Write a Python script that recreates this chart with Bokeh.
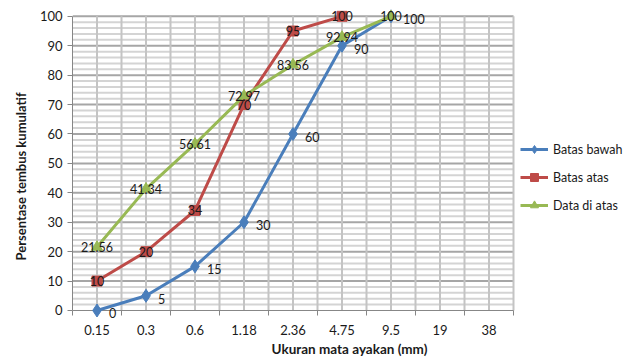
from bokeh.plotting import figure
from bokeh.models import (Range1d, FixedTicker, Legend, LegendItem, LabelSet,
                          ColumnDataSource, Title)
from bokeh.core.properties import value
from bokeh.embed import file_html
from bokeh.resources import INLINE

# ---- data ----
categories = ["0.15", "0.3", "0.6", "1.18", "2.36", "4.75", "9.5", "19", "38"]
batas_bawah = [0, 5, 15, 30, 60, 90, 100]
batas_atas = [10, 20, 34, 70, 95, 100]
data_di_atas = [21.56, 41.34, 56.61, 72.97, 83.56, 92.94, 100]
y_ticks = list(range(0, 101, 10))

FONT = "Lato"
BLUE = "#4a7ebb"
RED = "#be4b48"
GREEN = "#98b954"
TXT = "#1a1a1a"
AXIS = "#868686"

n = len(categories)
centers = [i + 0.5 for i in range(n)]
YMAX = 100
# the frame is widened past the last category so the legend fits beside the grid,
# and extends a little below 0 / above 100 so data labels there are not cut
x_end = n * (626 - 72) / (513 - 72)

p = figure(width=626, height=362, output_backend="svg", toolbar_location=None,
           x_range=Range1d(0, x_end), y_range=Range1d(-2.72, 103),
           min_border_left=72, min_border_right=0, min_border_top=7,
           min_border_bottom=44)
p.outline_line_color = None
p.background_fill_color = "white"
p.border_fill_color = "white"

# x axis: labels at category centres, tick marks at boundaries
p.xaxis.ticker = FixedTicker(ticks=centers, minor_ticks=list(range(n + 1)))
p.xaxis.bounds = (0, n)
p.xaxis.axis_line_color = None
p.xaxis.major_label_overrides = {c: lab for c, lab in zip(centers, categories)}
p.xaxis.major_tick_line_color = None
p.xaxis.major_tick_out = 0
p.xaxis.major_tick_in = 0
p.xaxis.minor_tick_in = 8
p.xaxis.minor_tick_out = -3
p.xaxis.minor_tick_line_color = AXIS
p.xaxis.major_label_standoff = 6
p.xaxis.axis_label = "Ukuran mata ayakan (mm)"
p.xaxis.axis_label_standoff = 3
p.xaxis.axis_label_text_font_size = "13.5px"

p.yaxis.ticker = FixedTicker(ticks=y_ticks, minor_ticks=list(range(0, 101, 2)))
p.yaxis.bounds = (0, YMAX)
p.yaxis.axis_line_color = AXIS
p.yaxis.major_tick_out = 5
p.yaxis.major_tick_in = 0
p.yaxis.minor_tick_out = 0
p.yaxis.minor_tick_in = 0
p.yaxis.major_tick_line_color = AXIS
p.yaxis.major_label_standoff = 5

for ax in (p.xaxis, p.yaxis):
    ax.axis_line_width = 1
    ax.major_label_text_font = FONT
    ax.major_label_text_font_size = "13px"
    ax.major_label_text_color = TXT
    ax.axis_label_text_font = FONT
    ax.axis_label_text_font_style = "bold"
    ax.axis_label_text_color = TXT

ytitle = Title(text="Persentase tembus kumulatif", align="left", offset=58,
               text_font=FONT, text_font_size="13px", text_font_style="bold",
               text_color=TXT, standoff=16)
p.add_layout(ytitle, "left")

# grids (drawn as segments so they stop at the last category / at 100)
p.xgrid.grid_line_color = None
p.ygrid.grid_line_color = None
minor_y = [v for v in range(2, YMAX + 1, 2) if v % 10]
major_y = y_ticks[1:]
p.segment(x0=[0] * len(minor_y), y0=minor_y, x1=[n] * len(minor_y), y1=minor_y,
          line_color="#d4d4d4", line_width=2)
p.segment(x0=[0] * len(major_y), y0=major_y, x1=[n] * len(major_y), y1=major_y,
          line_color="#a6a6a6", line_width=2)
gx = [i * 0.5 for i in range(1, 2 * n + 1)]
p.segment(x0=gx, y0=[0] * len(gx), x1=gx, y1=[YMAX] * len(gx),
          line_color="#c4c4c4", line_width=2)
# category axis line at y = 0
p.segment(x0=[0], y0=[0], x1=[n], y1=[0], line_color=AXIS, line_width=1)

# series
xb = centers[:len(batas_bawah)]
xa = centers[:len(batas_atas)]
xd = centers[:len(data_di_atas)]

lb = p.line(xb, batas_bawah, line_color=BLUE, line_width=3)
mb = p.scatter(xb, batas_bawah, marker="diamond", size=13, fill_color=BLUE, line_color=BLUE)
la = p.line(xa, batas_atas, line_color=RED, line_width=3)
ma = p.scatter(xa, batas_atas, marker="square", size=10, fill_color=RED, line_color=RED)
ld = p.line(xd, data_di_atas, line_color=GREEN, line_width=3)
md = p.scatter(xd, data_di_atas, marker="triangle", size=11, fill_color=GREEN, line_color=GREEN)

def fmt(v):
    return ("%g" % v)

src_b = ColumnDataSource(dict(x=xb, y=batas_bawah, t=[fmt(v) for v in batas_bawah]))
src_a = ColumnDataSource(dict(x=xa, y=batas_atas, t=[fmt(v) for v in batas_atas]))
src_d = ColumnDataSource(dict(x=xd, y=data_di_atas, t=[fmt(v) for v in data_di_atas]))

common = dict(text_font=value(FONT), text_font_size=value("12.5px"), text_color=TXT)
p.add_layout(LabelSet(x="x", y="y", text="t", source=src_d, text_align="center",
                      text_baseline="middle", **common))
p.add_layout(LabelSet(x="x", y="y", text="t", source=src_a, text_align="center",
                      text_baseline="middle", **common))
p.add_layout(LabelSet(x="x", y="y", text="t", source=src_b, text_align="left",
                      text_baseline="middle", x_offset=12, y_offset=-3, **common))

legend = Legend(items=[
    LegendItem(label="Batas bawah", renderers=[lb, mb]),
    LegendItem(label="Batas atas", renderers=[la, ma]),
    LegendItem(label="Data di atas", renderers=[ld, md]),
], location=(448, 103))
legend.border_line_color = None
legend.background_fill_alpha = 0
legend.padding = 0
legend.margin = 0
legend.spacing = 8
legend.glyph_width = 28
legend.glyph_height = 20
legend.label_standoff = 5
legend.label_text_font = FONT
legend.label_text_font_size = "12.5px"
legend.label_text_color = TXT
p.add_layout(legend, "center")

open("out.html", "w").write(file_html(p, INLINE))
